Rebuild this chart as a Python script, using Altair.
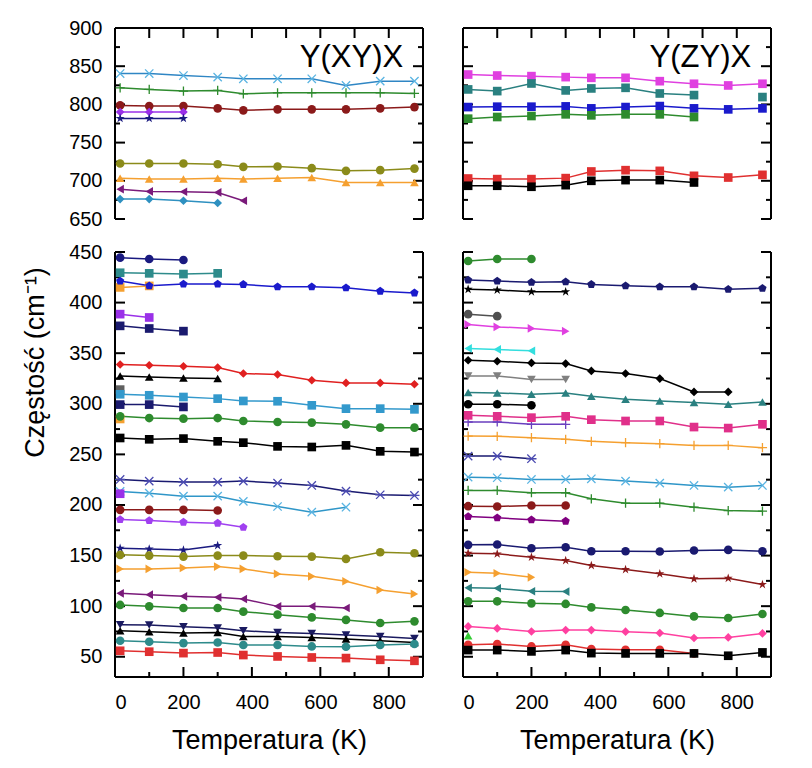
import altair as alt
import pandas as pd

# ---------------- data ----------------
T = [15, 100, 200, 300, 375, 475, 575, 675, 775, 875]

# Y(XY)X  upper range (650-900)
xy_hi_cross_lb = [840.4, 840.4, 837.8, 835.7, 833.5, 833.5, 833.5, 824.8, 830.4, 830.4]
xy_hi_plus_gr = [821.7, 819.6, 817.4, 818.3, 813.9, 815.2, 815.2, 815.2, 815.2, 814.3]
xy_hi_sph_dr = [798.7, 797.8, 797.8, 794.8, 792.2, 793.5, 793.5, 793.5, 794.8, 796.5]
xy_hi_dia_vi = [790.0, 790.0, 790.0]
xy_hi_star_nv = [781.7, 781.7, 781.7]
xy_hi_circ_ol = [722.6, 722.6, 722.6, 721.7, 718.3, 718.7, 716.5, 713.0, 713.9, 716.0]
xy_hi_tri_or = [703.5, 702.2, 702.2, 703.5, 702.2, 703.5, 704.3, 697.8, 697.8, 697.8]
xy_hi_tril_pu = [689.1, 686.1, 685.7, 684.8, 673.9]
xy_hi_dia_sb = [676.1, 676.1, 673.9, 670.9]

# Y(ZY)X  upper range
zy_hi_sq_mg = [839.1, 837.8, 837.0, 835.7, 834.8, 834.8, 830.4, 827.0, 824.8, 827.0]
zy_hi_sq_tl = [819.6, 817.4, 827.4, 818.3, 820.9, 821.7, 814.3, 812.2]
zy_hi_sq_tl2 = [None, None, None, None, None, None, None, None, None, 809.6]
zy_hi_sq_bl = [796.5, 797.0, 797.0, 797.4, 794.8, 796.5, 797.8, 794.8, 793.5, 794.8]
zy_hi_sq_gr = [781.3, 783.5, 784.8, 787.0, 785.7, 787.0, 787.0, 783.5]
zy_hi_sq_rd = [703.0, 702.2, 702.2, 703.5, 712.2, 713.9, 713.0, 706.5, 704.3, 707.8]
zy_hi_sq_bk = [693.5, 693.5, 692.2, 694.3, 700.0, 700.9, 700.9, 697.8]

# Y(XY)X  lower range (30-450)
xy_lo_circ_nv = [444.4, 443.1, 442.1]
xy_lo_sq_tl = [429.5, 428.9, 428.2, 428.9]
xy_lo_sq_or1 = [415.0, 416.5]
xy_lo_pent_bl = [421.3, 416.6, 418.3, 418.3, 418.0, 415.6, 415.6, 414.6, 411.3, 409.6]
xy_lo_sq_vi = [388.6, 385.3]
xy_lo_sq_nv1 = [377.0, 374.4, 371.8]
xy_lo_dia_rd = [338.8, 338.1, 337.1, 335.8, 329.9, 328.9, 323.3, 320.6, 320.6, 319.3]
xy_lo_tri_bk1 = [327.5, 326.5, 325.5, 324.9]
xy_lo_sq_gy = [314.0]
xy_lo_sq_lb = [309.4, 308.4, 306.7, 305.1, 302.8, 302.5, 298.5, 295.2, 295.2, 294.5]
xy_lo_sq_nv2 = [299.2, 299.2, 296.9]
xy_lo_sq_or2 = [285.0]
xy_lo_circ_gr1 = [287.6, 285.9, 285.3, 285.9, 283.0, 282.0, 281.4, 279.7, 276.4, 276.4]
xy_lo_sq_bk = [266.2, 264.9, 265.6, 262.9, 261.6, 257.9, 257.3, 258.9, 253.0, 252.3]
xy_lo_ast_nv = [225.2, 223.6, 222.6, 222.6, 223.6, 221.6, 219.3, 213.7, 210.1, 209.4]
xy_lo_cross_lb = [213.4, 211.7, 208.7, 208.7, 203.5, 198.5, 192.9, 197.8]
xy_lo_sq_vi2 = [211.1]
xy_lo_sph_dr = [195.2, 195.2, 195.2, 194.5]
xy_lo_pent_vi = [185.6, 184.6, 183.0, 182.0, 178.0]
xy_lo_star_nv = [157.2, 156.6, 155.6, 159.9]
xy_lo_circ_ol = [150.7, 150.0, 149.0, 150.0, 150.0, 149.3, 149.0, 146.7, 153.3, 152.3]
xy_lo_trir_or = [136.8, 136.8, 137.8, 139.1, 136.8, 131.9, 129.5, 124.6, 116.0, 112.1]
xy_lo_tril_pu = [112.7, 111.4, 109.7, 108.7, 107.1, 99.8, 99.8, 98.2]
xy_lo_circ_gr2 = [101.2, 99.8, 98.2, 98.2, 94.6, 91.6, 88.9, 86.4, 83.4, 85.0]
xy_lo_trid_nv = [81.7, 81.4, 79.7, 78.4, 75.7, 74.0, 73.0, 71.4, 70.0, 68.0]
xy_lo_tri_bk2 = [75.7, 74.8, 73.4, 74.0, 70.1, 70.1, 69.1, 67.5, 65.8, 64.2]
xy_lo_circ_tl = [65.8, 64.8, 63.5, 64.1, 61.6, 61.6, 60.2, 59.9, 61.6, 62.6]
xy_lo_sq_rd = [55.9, 55.0, 53.6, 54.2, 51.7, 50.3, 49.3, 48.7, 47.0, 46.0]

# Y(ZY)X  lower range
zy_lo_circ_gr = [441.1, 443.1, 443.1]
zy_lo_pent_nv = [422.3, 421.3, 420.0, 420.6, 418.0, 416.6, 415.6, 415.6, 413.1, 414.1]
zy_lo_star_bk = [413.1, 412.4, 410.7, 410.7]
zy_lo_circ_gy = [388.6, 386.6]
zy_lo_trir_mg = [378.4, 376.0, 374.5, 371.8]
zy_lo_tril_cy = [354.7, 353.7, 352.3]
zy_lo_dia_bk = [343.0, 342.0, 340.4, 339.7, 332.5, 329.9, 324.9, 311.7, 311.7]
zy_lo_trid_gy = [327.5, 327.5, 323.9, 323.9]
zy_lo_tri_tl = [311.1, 310.7, 309.4, 310.7, 307.4, 304.5, 302.8, 301.2, 299.5, 301.8]
zy_lo_circ_bk = [299.5, 299.5, 298.5]
zy_lo_sq_pk = [288.6, 287.6, 286.3, 287.6, 284.3, 283.0, 283.0, 277.0, 276.0, 279.7]
zy_lo_plus_pu = [282.0, 282.0, 279.7, 279.7]
zy_lo_plus_or = [268.1, 267.8, 266.5, 264.9, 262.9, 261.6, 260.6, 258.9, 258.9, 256.6]
zy_lo_ast_nv = [248.3, 248.3, 245.7]
zy_lo_cross_lb = [227.5, 226.9, 225.2, 225.2, 225.9, 223.6, 221.6, 219.3, 217.6, 219.3]
zy_lo_plus_gr = [214.4, 214.4, 212.1, 212.1, 206.1, 201.8, 201.8, 197.8, 194.5, 193.9]
zy_lo_sph_dr = [198.8, 198.5, 199.5, 199.5]
zy_lo_pent_pu = [188.6, 187.3, 185.3, 184.0]
zy_lo_circ_nv = [160.6, 160.9, 157.2, 158.2, 154.3, 154.3, 154.0, 155.0, 155.6, 154.3]
zy_lo_star_br = [152.3, 151.7, 148.4, 145.1, 140.2, 136.2, 132.0, 127.0, 127.6, 121.4]
zy_lo_trir_or = [133.5, 132.5, 128.5]
zy_lo_tril_tl = [118.1, 117.7, 114.7, 114.4]
zy_lo_sph_gr = [104.8, 104.8, 102.8, 102.2, 98.8, 96.2, 93.3, 89.9, 88.3, 92.3]
zy_lo_dia_pk = [80.0, 78.0, 75.0, 76.4, 76.4, 74.8, 73.5, 68.5, 69.1, 73.1]
zy_lo_tri_lg = [70.8]
zy_lo_circ_rd = [61.9, 62.6, 60.2, 61.9, 57.6, 56.9, 56.9, 53.3]
zy_lo_sq_bk = [56.6, 56.6, 55.3, 56.6, 53.6, 53.3, 53.3, 53.3, 51.0, 54.3]

# panel, values, marker, marker colour, line colour
SERIES = [
    ("xy_hi", xy_hi_cross_lb, "x", "#5ab4e2", "#2f86c4"),
    ("xy_hi", xy_hi_plus_gr, "plus", "#2e8b2e", "#2e8b2e"),
    ("xy_hi", xy_hi_sph_dr, "circle", "#8b1a1a", "#8b1a1a"),
    ("xy_hi", xy_hi_dia_vi, "diamond", "#9a30e8", "#9a30e8"),
    ("xy_hi", xy_hi_star_nv, "star", "#1a1a80", "#1a1a80"),
    ("xy_hi", xy_hi_circ_ol, "circle", "#8b8b1a", "#8b8b1a"),
    ("xy_hi", xy_hi_tri_or, "tri_up", "#f5a030", "#f5a030"),
    ("xy_hi", xy_hi_tril_pu, "tri_left", "#7a1a7a", "#7a1a7a"),
    ("xy_hi", xy_hi_dia_sb, "diamond", "#2e90c0", "#2e90c0"),

    ("zy_hi", zy_hi_sq_mg, "square", "#e040e0", "#e040e0"),
    ("zy_hi", zy_hi_sq_tl, "square", "#2a8080", "#2a8080"),
    ("zy_hi", zy_hi_sq_tl2, "square", "#2a8080", "#2a8080"),
    ("zy_hi", zy_hi_sq_bl, "square", "#1a1acc", "#1a1acc"),
    ("zy_hi", zy_hi_sq_gr, "square", "#2e8b2e", "#2e8b2e"),
    ("zy_hi", zy_hi_sq_rd, "square", "#e03030", "#e03030"),
    ("zy_hi", zy_hi_sq_bk, "square", "#000000", "#000000"),

    ("xy_lo", xy_lo_circ_nv, "circle", "#1a1a80", "#1a1a80"),
    ("xy_lo", xy_lo_sq_tl, "square", "#2e8b8b", "#2e8b8b"),
    ("xy_lo", xy_lo_sq_or1, "square", "#f5a030", "#f5a030"),
    ("xy_lo", xy_lo_pent_bl, "pentagon", "#1a1acc", "#1a1acc"),
    ("xy_lo", xy_lo_sq_vi, "square", "#9a30e8", "#9a30e8"),
    ("xy_lo", xy_lo_sq_nv1, "square", "#1a1a6e", "#1a1a6e"),
    ("xy_lo", xy_lo_dia_rd, "diamond", "#e02020", "#e02020"),
    ("xy_lo", xy_lo_tri_bk1, "tri_up", "#000000", "#000000"),
    ("xy_lo", xy_lo_sq_gy, "square", "#606060", "#606060"),
    ("xy_lo", xy_lo_sq_lb, "square", "#3399cc", "#3399cc"),
    ("xy_lo", xy_lo_sq_nv2, "square", "#1a1a6e", "#1a1a6e"),
    ("xy_lo", xy_lo_sq_or2, "square", "#f5a030", "#f5a030"),
    ("xy_lo", xy_lo_circ_gr1, "circle", "#2e8b2e", "#2e8b2e"),
    ("xy_lo", xy_lo_sq_bk, "square", "#000000", "#000000"),
    ("xy_lo", xy_lo_ast_nv, "asterisk", "#4a4ab0", "#1a1a70"),
    ("xy_lo", xy_lo_cross_lb, "x", "#5ab4e2", "#2f96c8"),
    ("xy_lo", xy_lo_sq_vi2, "square", "#9a30e8", "#9a30e8"),
    ("xy_lo", xy_lo_sph_dr, "circle", "#8b1a1a", "#8b1a1a"),
    ("xy_lo", xy_lo_pent_vi, "pentagon", "#a040f0", "#a040f0"),
    ("xy_lo", xy_lo_star_nv, "star", "#1a1a80", "#1a1a80"),
    ("xy_lo", xy_lo_circ_ol, "circle", "#8b8b1a", "#8b8b1a"),
    ("xy_lo", xy_lo_trir_or, "tri_right", "#f5a030", "#f5a030"),
    ("xy_lo", xy_lo_tril_pu, "tri_left", "#7a1a7a", "#7a1a7a"),
    ("xy_lo", xy_lo_circ_gr2, "circle", "#2e8b2e", "#2e8b2e"),
    ("xy_lo", xy_lo_trid_nv, "tri_down", "#1a1a60", "#1a1a60"),
    ("xy_lo", xy_lo_tri_bk2, "tri_up", "#000000", "#000000"),
    ("xy_lo", xy_lo_circ_tl, "circle", "#2e8b8b", "#2e8b8b"),
    ("xy_lo", xy_lo_sq_rd, "square", "#e03030", "#e03030"),

    ("zy_lo", zy_lo_circ_gr, "circle", "#2e8b2e", "#2e8b2e"),
    ("zy_lo", zy_lo_pent_nv, "pentagon", "#1a1a70", "#1a1a70"),
    ("zy_lo", zy_lo_star_bk, "star", "#000000", "#000000"),
    ("zy_lo", zy_lo_circ_gy, "circle", "#505050", "#505050"),
    ("zy_lo", zy_lo_trir_mg, "tri_right", "#e040e0", "#e040e0"),
    ("zy_lo", zy_lo_tril_cy, "tri_left", "#33dede", "#33dede"),
    ("zy_lo", zy_lo_dia_bk, "diamond", "#000000", "#000000"),
    ("zy_lo", zy_lo_trid_gy, "tri_down", "#808080", "#808080"),
    ("zy_lo", zy_lo_tri_tl, "tri_up", "#2a8080", "#2a8080"),
    ("zy_lo", zy_lo_circ_bk, "circle", "#000000", "#000000"),
    ("zy_lo", zy_lo_sq_pk, "square", "#e0308a", "#e0308a"),
    ("zy_lo", zy_lo_plus_pu, "plus", "#6a3fbf", "#6a3fbf"),
    ("zy_lo", zy_lo_plus_or, "plus", "#f5a030", "#f5a030"),
    ("zy_lo", zy_lo_ast_nv, "asterisk", "#4a4ab0", "#1a1a70"),
    ("zy_lo", zy_lo_cross_lb, "x", "#5ab4e2", "#2f96c8"),
    ("zy_lo", zy_lo_plus_gr, "plus", "#2e8b2e", "#2e8b2e"),
    ("zy_lo", zy_lo_sph_dr, "circle", "#8b1a1a", "#8b1a1a"),
    ("zy_lo", zy_lo_pent_pu, "pentagon", "#800080", "#800080"),
    ("zy_lo", zy_lo_circ_nv, "circle", "#1a1a70", "#1a1a70"),
    ("zy_lo", zy_lo_star_br, "star", "#8b1a1a", "#8b1a1a"),
    ("zy_lo", zy_lo_trir_or, "tri_right", "#f5a030", "#f5a030"),
    ("zy_lo", zy_lo_tril_tl, "tri_left", "#2a8080", "#2a8080"),
    ("zy_lo", zy_lo_sph_gr, "circle", "#2e8b2e", "#2e8b2e"),
    ("zy_lo", zy_lo_dia_pk, "diamond", "#ff40a0", "#ff40a0"),
    ("zy_lo", zy_lo_tri_lg, "tri_up", "#33cc33", "#33cc33"),
    ("zy_lo", zy_lo_circ_rd, "circle", "#e03030", "#e03030"),
    ("zy_lo", zy_lo_sq_bk, "square", "#000000", "#000000"),
]

PANEL_LABELS = {"xy_hi": "Y(XY)X", "zy_hi": "Y(ZY)X"}
X_LABELS = [0, 200, 400, 600, 800]
Y_LABELS_HI = [650, 700, 750, 800, 850, 900]
Y_LABELS_LO = [50, 100, 150, 200, 250, 300, 350, 400, 450]

# ---------------- styling ----------------
SHAPES = {
    "circle": "circle",
    "square": "square",
    "diamond": "diamond",
    "tri_up": "triangle-up",
    "tri_down": "triangle-down",
    "tri_right": "triangle-right",
    "tri_left": "triangle-left",
    "star": "M0,-1.1L0.25,-0.34L1.05,-0.34L0.4,0.13L0.65,0.9L0,0.42L-0.65,0.9L-0.4,0.13L-1.05,-0.34L-0.25,-0.34Z",
    "pentagon": "M0,-1L0.951,-0.309L0.588,0.809L-0.588,0.809L-0.951,-0.309Z",
    "x": "M-0.9,-0.9L0.9,0.9M-0.9,0.9L0.9,-0.9",
    "plus": "M-1,0L1,0M0,-1L0,1",
    "asterisk": "M-0.9,-0.9L0.9,0.9M-0.9,0.9L0.9,-0.9M-1.1,0L1.1,0",
}
OPEN = {"x", "plus", "asterisk"}

rows = []
for sid, (panel, vals, shape, color, lcolor) in enumerate(SERIES):
    for t, v in zip(T, vals):
        if v is None:
            continue
        rows.append(dict(panel=panel, sid=sid, T=t, v=v, shape=SHAPES[shape],
                         color=color, lcolor=lcolor, open=shape in OPEN))
df = pd.DataFrame(rows)

W = 308
XDOM = [0, 900]
FONT = "Liberation Sans"


def frame_table(ydom, h, top_edge):
    y0, y1 = ydom
    xpx = W / (XDOM[1] - XDOM[0])
    ypx = h / (y1 - y0)
    r = []
    r.append(dict(T=0, T2=0, v=y0, v2=y1))
    r.append(dict(T=900, T2=900, v=y0, v2=y1))
    ye = y1 if top_edge else y0
    r.append(dict(T=0, T2=900, v=ye, v2=ye))
    start = int((y0 + 24) // 25 * 25)
    for v in range(start, int(y1) + 1, 25):
        L = (10 if v % 50 == 0 else 5) / xpx
        r.append(dict(T=0, T2=L, v=v, v2=v))
        r.append(dict(T=900 - L, T2=900, v=v, v2=v))
    for t in range(100, 900, 100):
        if top_edge:
            L = 10 / ypx
            r.append(dict(T=t, T2=t, v=y1 - L, v2=y1))
        else:
            L = (10 if t % 200 == 0 else 5) / ypx
            r.append(dict(T=t, T2=t, v=y0, v2=y0 + L))
    return pd.DataFrame(r)


def make_panel(panel, ydom, h, top_edge, ylabels):
    d = df[df.panel == panel]
    xsc = alt.Scale(domain=XDOM, nice=False, zero=False)
    ysc = alt.Scale(domain=ydom, nice=False, zero=False)

    if not top_edge:
        xe = alt.X("T:Q", scale=xsc, title="Temperatura (K)",
                   axis=alt.Axis(values=X_LABELS, ticks=False, tickSize=0, domain=False,
                                 grid=False, labelFontSize=20, labelPadding=15,
                                 labelColor="black", titleFontSize=27,
                                 titleFontWeight="normal", titleColor="black",
                                 titlePadding=15))
    else:
        xe = alt.X("T:Q", scale=xsc, axis=None)
    if ylabels is not None:
        kw = dict(values=ylabels, ticks=False, tickSize=0, domain=False, grid=False,
                  labelFontSize=20, labelPadding=13, labelColor="black")
        if top_edge:
            ye = alt.Y("v:Q", scale=ysc, title=None, axis=alt.Axis(**kw))
        else:
            ye = alt.Y("v:Q", scale=ysc, title="Częstość (cm⁻¹)",
                       axis=alt.Axis(titleFontSize=27, titleFontWeight="normal",
                                     titleColor="black", titleX=-66, titleY=110, **kw))
    else:
        ye = alt.Y("v:Q", scale=ysc, axis=None)

    frame = alt.Chart(frame_table(ydom, h, top_edge)).mark_rule(
        color="black", strokeWidth=2).encode(x=xe, x2="T2:Q", y=ye, y2="v2:Q")
    lines = alt.Chart(d).mark_line(strokeWidth=1.5).encode(
        x=xe, y=ye, detail="sid:N", color=alt.Color("lcolor:N", scale=None))
    layers = [frame, lines]
    d_open = d[d.open]
    if len(d_open):
        layers.append(alt.Chart(d_open).mark_point(filled=False, size=85, opacity=1,
                                                    strokeWidth=1.3).encode(
            x=xe, y=ye, shape=alt.Shape("shape:N", scale=None),
            color=alt.Color("color:N", scale=None)))
    d_fill = d[~d.open]
    layers.append(alt.Chart(d_fill).mark_point(filled=True, size=75, opacity=1).encode(
        x=xe, y=ye, shape=alt.Shape("shape:N", scale=None),
        color=alt.Color("color:N", scale=None)))
    if panel in PANEL_LABELS:
        lab = pd.DataFrame({"T": [842], "v": [849], "lab": [PANEL_LABELS[panel]]})
        layers.append(alt.Chart(lab).mark_text(align="right", baseline="alphabetic",
                                               fontSize=31, font=FONT, color="black").encode(
            x=xe, y=ye, text="lab:N"))
    return alt.layer(*layers).properties(width=W, height=h)


H_HI = 191
H_LO = 425
tl = make_panel("xy_hi", [650, 900], H_HI, True, Y_LABELS_HI)
tr = make_panel("zy_hi", [650, 900], H_HI, True, None)
bl = make_panel("xy_lo", [30, 450], H_LO, False, Y_LABELS_LO)
br = make_panel("zy_lo", [30, 450], H_LO, False, None)

chart = alt.concat(tl, tr, bl, br, columns=2, spacing={"row": 33, "column": 40},
                   bounds="flush").properties(
    padding={"left": 12, "top": 10, "right": 5, "bottom": 5}
).configure(font=FONT).configure_view(stroke=None)

chart.save("out.html", embed_options={"renderer": "svg", "actions": False})
